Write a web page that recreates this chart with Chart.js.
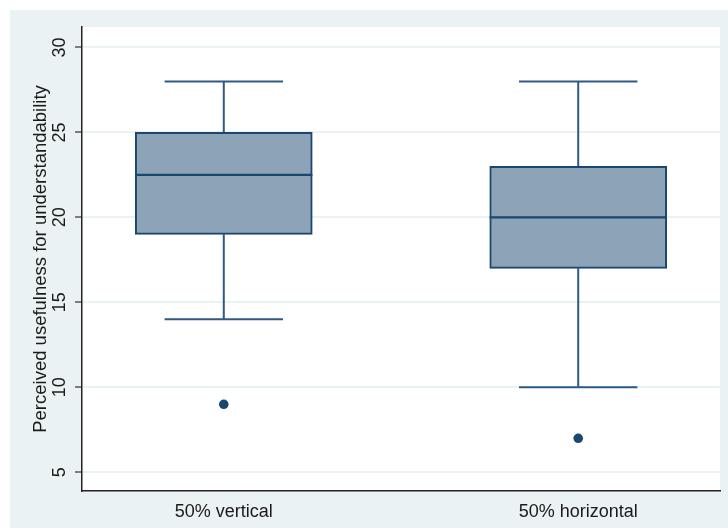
<!DOCTYPE html>
<html>
<head>
<meta charset="utf-8">
<script src="https://cdn.jsdelivr.net/npm/chart.js@4/dist/chart.umd.min.js"></script>
<style>
  html, body { margin: 0; padding: 0; background: #ffffff; }
  #wrap { width: 728px; height: 530px; }
</style>
</head>
<body>
<div id="wrap"><canvas id="c" width="728" height="530"></canvas></div>
<script>
// ---- data ----
const categories = ['50% vertical', '50% horizontal'];
const positions = [1, 2];
const whiskerLow = [14, 10];
const q1 = [19, 17];
const median = [22.5, 20];
const q3 = [25, 23];
const whiskerHigh = [28, 28];
const outliers = [[9], [7]];
const yTicks = [5, 10, 15, 20, 25, 30];

// ---- style constants ----
const NAVY = '#1A476F';
const BOX_FILL = '#8CA3B8';
const BG = '#EAF2F3';
const BOX_HALF = 0.25;
const CAP_HALF = 0.167;
const FONT = 'Liberation Sans, Arial, Helvetica, sans-serif';

// build datasets from the arrays
const medianData = [], whiskerData = [], boxData = [], outlierData = [];
positions.forEach((p, i) => {
  boxData.push({ x: p, y: [q1[i], q3[i]] });
  medianData.push({ x: p - BOX_HALF, y: median[i] }, { x: p + BOX_HALF, y: median[i] }, { x: p, y: null });
  whiskerData.push(
    { x: p, y: q3[i] }, { x: p, y: whiskerHigh[i] }, { x: p, y: null },
    { x: p - CAP_HALF, y: whiskerHigh[i] }, { x: p + CAP_HALF, y: whiskerHigh[i] }, { x: p, y: null },
    { x: p, y: q1[i] }, { x: p, y: whiskerLow[i] }, { x: p, y: null },
    { x: p - CAP_HALF, y: whiskerLow[i] }, { x: p + CAP_HALF, y: whiskerLow[i] }, { x: p, y: null }
  );
  outliers[i].forEach(v => outlierData.push({ x: p, y: v }));
});

const bgPlugin = {
  id: 'bg',
  beforeDraw(chart) {
    const ctx = chart.ctx;
    ctx.save();
    ctx.fillStyle = '#ffffff';
    ctx.fillRect(0, 0, chart.width, chart.height);
    ctx.fillStyle = BG;
    ctx.fillRect(10, 10, chart.width - 10, chart.height - 12);
    const a = chart.chartArea;
    ctx.fillStyle = '#ffffff';
    ctx.fillRect(a.left, a.top, a.right - a.left, a.bottom - a.top);
    ctx.restore();
  }
};

const yLabelPlugin = {
  id: 'yLabels',
  afterDraw(chart) {
    const s = chart.scales.y;
    const ctx = chart.ctx;
    ctx.save();
    ctx.fillStyle = '#1a1a1a';
    ctx.font = '18px ' + FONT;
    ctx.textAlign = 'center';
    ctx.textBaseline = 'middle';
    s.ticks.forEach(t => {
      const py = s.getPixelForValue(t.value);
      ctx.save();
      ctx.translate(s.right - 22, py);
      ctx.rotate(-Math.PI / 2);
      ctx.fillText(String(t.value), 0, 0);
      ctx.restore();
    });
    ctx.restore();
  }
};

new Chart(document.getElementById('c'), {
  data: {
    datasets: [
      {
        type: 'line', label: 'median', data: medianData, order: 0,
        borderColor: NAVY, borderWidth: 2.2, pointRadius: 0, spanGaps: false, fill: false
      },
      {
        type: 'bar', label: 'box', data: boxData, order: 1,
        backgroundColor: BOX_FILL, borderColor: NAVY, borderWidth: 2,
        borderSkipped: false, barThickness: 177
      },
      {
        type: 'line', label: 'whiskers', data: whiskerData, order: 2,
        borderColor: '#2E5A86', borderWidth: 2, pointRadius: 0, spanGaps: false, fill: false
      },
      {
        type: 'scatter', label: 'outliers', data: outlierData, order: 0,
        backgroundColor: NAVY, borderColor: NAVY, pointRadius: 4.8, borderWidth: 0
      }
    ]
  },
  options: {
    responsive: false,
    animation: false,
    events: [],
    layout: { padding: { left: 10, top: 27, right: 8, bottom: 2 } },
    plugins: { legend: { display: false }, tooltip: { enabled: false } },
    scales: {
      x: {
        type: 'linear', min: 0.6, max: 2.4, offset: false,
        afterBuildTicks: (scale) => { scale.ticks = positions.map(v => ({ value: v })); },
        afterFit: (scale) => { scale.height = 37; },
        grid: { display: false, offset: false },
        border: { display: true, color: '#222', width: 1.5 },
        ticks: {
          color: '#1a1a1a', padding: 2,
          font: { family: FONT, size: 18 },
          autoSkip: false, maxRotation: 0,
          callback: (v) => { const i = positions.indexOf(v); return i >= 0 ? categories[i] : ''; }
        }
      },
      y: {
        type: 'linear', min: 3.9, max: 31.2,
        afterBuildTicks: (scale) => { scale.ticks = yTicks.map(v => ({ value: v })); },
        afterFit: (scale) => { scale.width = 72; },
        grid: { color: BG, lineWidth: 2, drawTicks: true, tickLength: 7, tickColor: '#333', tickWidth: 1.2 },
        border: { display: true, color: '#222', width: 1.5 },
        ticks: { display: false },
        title: {
          display: true, text: 'Perceived usefulness for understandability',
          color: '#1a1a1a', font: { family: FONT, size: 18.5 },
          padding: { top: 20, bottom: 0 }
        }
      }
    }
  },
  plugins: [bgPlugin, yLabelPlugin]
});
</script>
</body>
</html>
